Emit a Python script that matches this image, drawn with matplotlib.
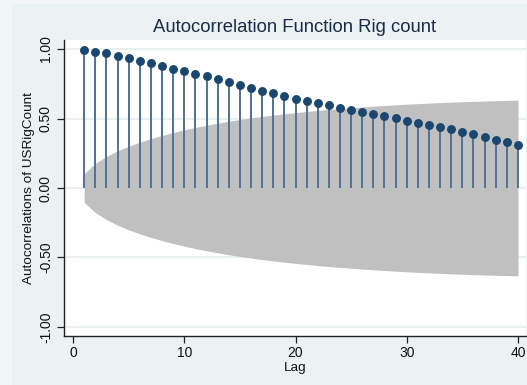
"""ACF of US rig count, Stata-style: stems + Bartlett 95% band."""
import numpy as np
import matplotlib
matplotlib.use("Agg")
import matplotlib.pyplot as plt
from matplotlib.patches import Rectangle

plt.rcParams["font.family"] = ["Liberation Sans", "DejaVu Sans"]

LAGS = list(range(1, 41))
ACF = [0.993, 0.981, 0.969, 0.952, 0.933, 0.914, 0.897, 0.880, 0.858, 0.840,
       0.820, 0.804, 0.782, 0.760, 0.741, 0.717, 0.698, 0.681, 0.662, 0.642,
       0.626, 0.612, 0.595, 0.578, 0.563, 0.549, 0.535, 0.518, 0.501, 0.484,
       0.470, 0.453, 0.437, 0.422, 0.405, 0.386, 0.367, 0.347, 0.329, 0.309]
N_OBS = 365          # sample size implied by the band width at lag 1
X_TICKS = [0, 10, 20, 30, 40]
Y_TICKS = [-1.0, -0.5, 0.0, 0.5, 1.0]

TITLE = "Autocorrelation Function Rig count"
YLABEL = "Autocorrelations of USRigCount"
XLABEL = "Lag"

NAVY = "#1a476f"
STEM = "#4f7196"
BAND = "#c0c0c0"
PANEL = "#eaf2f3"
GRID = "#e6eef0"
TITLE_C = "#1c2b44"

# Bartlett standard errors, as Stata's ac draws them
r = np.array(ACF)
cum = np.concatenate([[0.0], np.cumsum(r[:-1] ** 2)])
band = 1.96 * np.sqrt((1 + 2 * cum) / N_OBS)

fig = plt.figure(figsize=(5.27, 3.85), dpi=100)
fig.patch.set_facecolor("#f3f6f7")
fig.patches.append(Rectangle((12 / 527, 0), 1 - 12 / 527, 381 / 385,
                             transform=fig.transFigure, facecolor=PANEL,
                             edgecolor="none", zorder=-10))

ax = fig.add_axes([64 / 527, 49 / 385, 462 / 527, 296 / 385])
ax.set_zorder(1)
ax.set_facecolor("white")
ax.set_xlim(-0.81, 40.72)
ax.set_ylim(-1.065, 1.065)

for yt in Y_TICKS:
    ax.axhline(yt, color=GRID, lw=1.2, zorder=0)

ax.fill_between(LAGS, -band, band, color=BAND, lw=0, zorder=1)
ax.vlines(LAGS, 0, ACF, color=STEM, lw=1.4, zorder=2)
ax.plot(LAGS, ACF, "o", color=NAVY, ms=5.4, zorder=3)

for s in ("top", "right"):
    ax.spines[s].set_visible(False)
for s in ("left", "bottom"):
    ax.spines[s].set_color("#222222")
    ax.spines[s].set_linewidth(1.0)

ax.set_xticks(X_TICKS)
ax.set_yticks(Y_TICKS)
ax.set_yticklabels([f"{v:.2f}" for v in Y_TICKS], rotation=90, va="center")
ax.tick_params(axis="both", length=5, width=0.9, color="#222222",
               labelsize=10, labelcolor="#111111")
ax.tick_params(axis="y", pad=3)
ax.tick_params(axis="x", pad=2)

ax.set_xlabel(XLABEL, fontsize=9.7, color="#111111", labelpad=1.5)
ax.set_ylabel(YLABEL, fontsize=9.7, color="#111111", labelpad=3)
fig.text(295 / 527, 1 - 28 / 385, TITLE, ha="center", va="center",
         fontsize=13.3, color=TITLE_C)

fig.savefig("out.png", dpi=100, facecolor=fig.get_facecolor())
